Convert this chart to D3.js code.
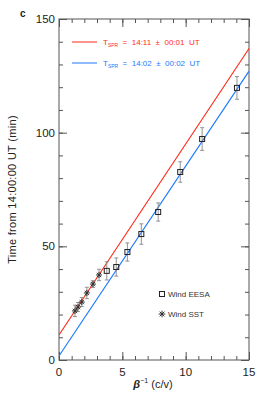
<!DOCTYPE html>
<html lang="en">
<head>
  <meta charset="UTF-8">
  <title>Release time fit</title>
  <script src="https://cdn.jsdelivr.net/npm/d3@7"></script>
  <style>
    body { margin: 0; background: #fff; }
    text { font-family: "Liberation Sans", Arial, sans-serif; }
  </style>
</head>
<body>
  <svg width="266" height="399"></svg>
  <script>
    // Wind EESA (squares)
    const eesaX = [3.77, 4.52, 5.4, 6.5, 7.83, 9.57, 11.3, 14.05];
    const eesaY = [39.2, 40.9, 47.5, 55.4, 65.1, 82.7, 97.2, 119.7];
    const eesaErr = [4, 4, 4, 4.5, 4, 4.5, 5, 5];
    // Wind SST (stars)
    const sstX = [1.26, 1.5, 1.8, 2.2, 2.68, 3.16];
    const sstY = [21.6, 23.3, 25.5, 29.5, 33.4, 37.4];
    const sstErr = [2.5, 2, 2, 2.5, 1.5, 2.5];
    // linear fits: T = t0 + slope * beta^-1
    const fits = [
      { t0: 11, slope: 8.4, color: "#ff2a1a", label: "14:11 \u00b1 00:01 UT" },
      { t0: 1.8, slope: 8.35, color: "#1f78ff", label: "14:02 \u00b1 00:02 UT" }
    ];
    const xTicks = [0, 5, 10, 15];
    const yTicks = [0, 50, 100, 150];

    const svg = d3.select("svg");
    const mLeft = 59, mRight = 249, mTop = 19, mBottom = 360;

    const x = d3.scaleLinear().domain([0, 15]).range([mLeft, mRight]);
    const y = d3.scaleLinear().domain([0, 150]).range([mBottom, mTop]);

    const ink = "#222";

    // frame
    svg.append("rect")
       .attr("x", mLeft).attr("y", mTop)
       .attr("width", mRight - mLeft).attr("height", mBottom - mTop)
       .attr("fill", "none").attr("stroke", "#555").attr("stroke-width", 1);

    // axes (major + minor ticks on all sides)
    const xMinor = d3.range(0, 16, 1), yMinor = d3.range(0, 151, 10);
    const tickStyle = g => g.selectAll("line").attr("stroke", "#555");
    function ticks(axis, tx, ty, vals, size) {
      svg.append("g").attr("transform", `translate(${tx},${ty})`)
         .call(axis.tickValues(vals).tickSize(size).tickFormat(""))
         .call(g => g.select(".domain").remove()).call(tickStyle);
    }
    ticks(d3.axisTop(x), 0, mBottom, xMinor, 4);
    ticks(d3.axisTop(x), 0, mBottom, xTicks, 8);
    ticks(d3.axisBottom(x), 0, mTop, xMinor, 4);
    ticks(d3.axisBottom(x), 0, mTop, xTicks, 8);
    ticks(d3.axisRight(y), mLeft, 0, yMinor, 4);
    ticks(d3.axisRight(y), mLeft, 0, yTicks, 8);
    ticks(d3.axisLeft(y), mRight, 0, yMinor, 4);
    ticks(d3.axisLeft(y), mRight, 0, yTicks, 8);

    // tick labels
    svg.append("g").selectAll("text").data(xTicks).join("text")
       .attr("x", d => x(d)).attr("y", mBottom + 16)
       .attr("text-anchor", "middle").attr("font-size", 11.5).attr("fill", ink)
       .text(d => d);
    svg.append("g").selectAll("text").data(yTicks).join("text")
       .attr("x", mLeft - 4).attr("y", d => y(d) + 4)
       .attr("text-anchor", "end").attr("font-size", 11.5).attr("fill", ink)
       .text(d => d);

    // axis titles
    const xt = svg.append("text").attr("x", 153).attr("y", 388)
       .attr("text-anchor", "middle").attr("font-size", 11).attr("fill", ink);
    xt.append("tspan").attr("font-weight", "bold").attr("font-style", "italic").text("\u03b2");
    xt.append("tspan").attr("font-size", 7).attr("dy", -5).text("\u22121");
    xt.append("tspan").attr("dy", 5).text(" (c/v)");

    svg.append("text")
       .attr("transform", `translate(16,${(mTop + mBottom) / 2}) rotate(-90)`)
       .attr("text-anchor", "middle").attr("font-size", 11).attr("fill", ink)
       .attr("letter-spacing", 0.3)
       .text("Time from  14:00:00 UT (min)");

    svg.append("text").attr("x", 20).attr("y", 17)
       .attr("font-size", 10).attr("font-weight", "bold").attr("fill", ink).text("c");

    // fit lines
    svg.append("clipPath").attr("id", "plot")
       .append("rect").attr("x", mLeft).attr("y", mTop)
       .attr("width", mRight - mLeft).attr("height", mBottom - mTop);
    const line = d3.line().x(d => x(d[0])).y(d => y(d[1]));
    svg.append("g").attr("clip-path", "url(#plot)")
       .selectAll("path").data(fits).join("path")
       .attr("d", f => line([[0, f.t0], [15, f.t0 + f.slope * 15]]))
       .attr("fill", "none").attr("stroke", f => f.color).attr("stroke-width", 1.1);

    // error bars
    function errorBars(xs, ys, es, cap) {
      const g = svg.append("g").attr("stroke", "#888").attr("stroke-width", 0.9);
      xs.forEach((xv, i) => {
        const cx = x(xv), y1 = y(ys[i] + es[i]), y2 = y(ys[i] - es[i]);
        g.append("line").attr("x1", cx).attr("x2", cx).attr("y1", y1).attr("y2", y2);
        g.append("line").attr("x1", cx - cap).attr("x2", cx + cap).attr("y1", y1).attr("y2", y1);
        g.append("line").attr("x1", cx - cap).attr("x2", cx + cap).attr("y1", y2).attr("y2", y2);
      });
    }
    errorBars(eesaX, eesaY, eesaErr, 2);
    errorBars(sstX, sstY, sstErr, 2);

    // markers
    [d3.symbolTimes, d3.symbolPlus].forEach(type => {
      svg.append("g").selectAll("path").data(sstX).join("path")
         .attr("transform", (d, i) => `translate(${x(d)},${y(sstY[i])})`)
         .attr("d", d3.symbol().type(type).size(14))
         .attr("fill", "none").attr("stroke", "#333").attr("stroke-width", 1);
    });

    svg.append("g").selectAll("rect").data(eesaX).join("rect")
       .attr("x", d => x(d) - 2.5).attr("y", (d, i) => y(eesaY[i]) - 2.5)
       .attr("width", 5).attr("height", 5)
       .attr("fill", "none").attr("stroke", "#222").attr("stroke-width", 1);

    // legend: fits
    fits.forEach((f, i) => {
      const ly = 42 + i * 21;
      svg.append("line").attr("x1", 72).attr("x2", 97).attr("y1", ly).attr("y2", ly)
         .attr("stroke", f.color).attr("stroke-width", 1);
      const t = svg.append("text").attr("x", 103).attr("y", ly + 3)
         .attr("font-size", 8).attr("fill", f.color).attr("xml:space", "preserve")
         .style("white-space", "pre");
      t.append("tspan").text("T");
      t.append("tspan").attr("font-size", 5).attr("dy", 2).text("SPR");
      t.append("tspan").attr("dy", -2).text("  =  " + f.label.replace(/ /g, "  "));
    });

    // legend: markers
    svg.append("rect").attr("x", 159.5).attr("y", 291.5).attr("width", 5).attr("height", 5)
       .attr("fill", "none").attr("stroke", "#222").attr("stroke-width", 1);
    svg.append("text").attr("x", 168).attr("y", 297).attr("font-size", 8).attr("fill", "#333")
       .text("Wind EESA");
    [d3.symbolTimes, d3.symbolPlus].forEach(type => {
      svg.append("path").attr("transform", "translate(162,314)")
         .attr("d", d3.symbol().type(type).size(16))
         .attr("fill", "none").attr("stroke", "#333");
    });
    svg.append("text").attr("x", 168).attr("y", 317).attr("font-size", 8).attr("fill", "#333")
       .text("Wind SST");
  </script>
</body>
</html>
